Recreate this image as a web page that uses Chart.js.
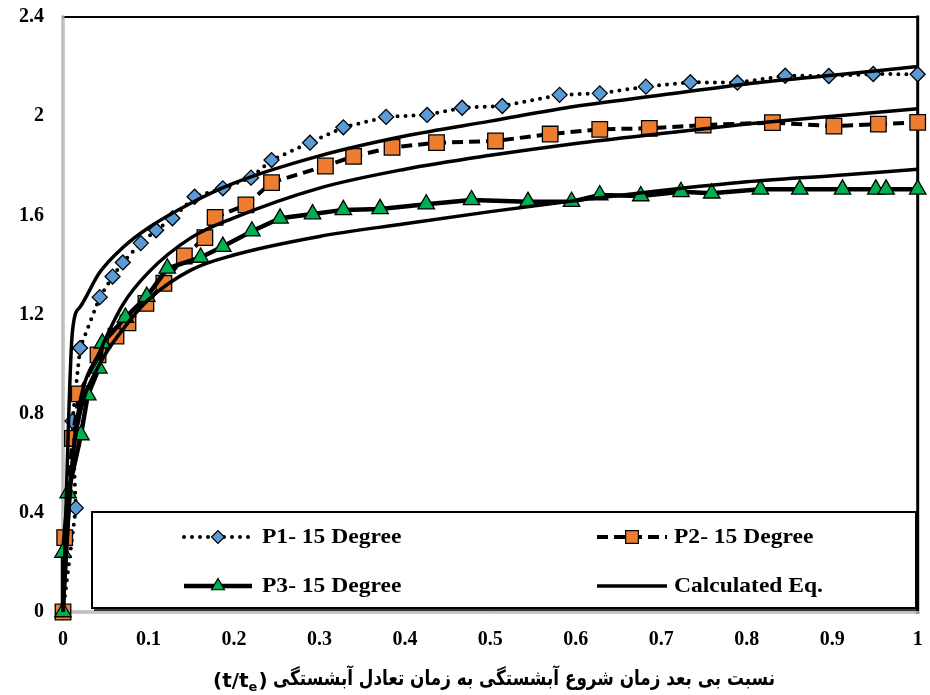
<!DOCTYPE html>
<html>
<head>
<meta charset="utf-8">
<script src="https://cdn.jsdelivr.net/npm/chart.js@4.4.1/dist/chart.umd.min.js"></script>
<style>
  html, body { margin: 0; padding: 0; background: #fff; }
  #wrap { width: 930px; height: 695px; }
</style>
</head>
<body>
<div id="wrap"><canvas id="chart" width="930" height="695"></canvas></div>
<script>
// --- measured series (t/te , depth ratio) ---
const p1X = [0, 0.015, 0.011, 0.020, 0.043, 0.058, 0.070, 0.091, 0.109, 0.128, 0.154, 0.187, 0.220, 0.244, 0.289, 0.328, 0.378, 0.426, 0.467, 0.514, 0.581, 0.628, 0.682, 0.734, 0.789, 0.845, 0.896, 0.948, 1.0];
const p1Y = [0, 0.42, 0.77, 1.065, 1.27, 1.353, 1.41, 1.488, 1.54, 1.588, 1.675, 1.709, 1.752, 1.823, 1.893, 1.955, 1.997, 2.005, 2.034, 2.041, 2.086, 2.092, 2.119, 2.137, 2.135, 2.163, 2.162, 2.170, 2.169];

const p2X = [0, 0.002, 0.011, 0.019, 0.041, 0.062, 0.076, 0.097, 0.118, 0.142, 0.166, 0.178, 0.214, 0.244, 0.307, 0.340, 0.385, 0.437, 0.506, 0.570, 0.628, 0.686, 0.749, 0.830, 0.902, 0.954, 1.0];
const p2Y = [0, 0.30, 0.70, 0.88, 1.037, 1.113, 1.166, 1.245, 1.326, 1.436, 1.51, 1.592, 1.642, 1.732, 1.799, 1.838, 1.874, 1.893, 1.90, 1.928, 1.947, 1.951, 1.964, 1.974, 1.960, 1.968, 1.975];

const p3X = [0, 0, 0.006, 0.021, 0.029, 0.042, 0.046, 0.073, 0.098, 0.122, 0.161, 0.187, 0.221, 0.254, 0.292, 0.328, 0.371, 0.425, 0.478, 0.544, 0.595, 0.628, 0.676, 0.723, 0.759, 0.816, 0.862, 0.912, 0.951, 0.963, 1.0];
const p3Y = [0, 0.24, 0.48, 0.714, 0.875, 0.983, 1.084, 1.188, 1.272, 1.386, 1.43, 1.474, 1.536, 1.588, 1.605, 1.622, 1.626, 1.645, 1.662, 1.655, 1.655, 1.682, 1.678, 1.695, 1.689, 1.705, 1.705, 1.705, 1.705, 1.705, 1.705];

// --- calculated equation curves ---
const calcX = [0, 0.011, 0.02, 0.043, 0.07, 0.1, 0.15, 0.2, 0.3, 0.4, 0.5, 0.6, 0.7, 0.8, 0.9, 1.0];
const calc1Y = [0, 1.13, 1.23, 1.37, 1.47, 1.55, 1.65, 1.73, 1.84, 1.92, 1.98, 2.04, 2.085, 2.13, 2.165, 2.2];
const calc2Y = [0, 0.62, 0.85, 1.05, 1.24, 1.37, 1.51, 1.59, 1.71, 1.786, 1.842, 1.89, 1.93, 1.968, 2.0, 2.03];
const calc3Y = [0, 0.60, 0.80, 1.00, 1.14, 1.26, 1.38, 1.44, 1.515, 1.566, 1.615, 1.66, 1.70, 1.735, 1.76, 1.786];

const xTickLabels = ['0', '0.1', '0.2', '0.3', '0.4', '0.5', '0.6', '0.7', '0.8', '0.9', '1'];
const yTickLabels = ['0', '0.4', '0.8', '1.2', '1.6', '2', '2.4'];

const legendNames = ['P1- 15 Degree', 'P2- 15 Degree', 'P3- 15 Degree', 'Calculated Eq.'];
const axisTitleFa = 'نسبت بی بعد زمان شروع آبشستگی به زمان تعادل آبشستگی';

const pts = (xs, ys) => xs.map((x, i) => ({ x: x, y: ys[i] }));

const serifBold = "'Liberation Serif', 'Times New Roman', serif";

const p1Style = {
  borderColor: '#000', borderWidth: 4, borderDash: [0, 8], borderCapStyle: 'round',
  pointStyle: 'rectRot', pointRadius: 7.5, pointBackgroundColor: '#5B9BD5', pointBorderColor: '#000', pointBorderWidth: 1.3
};
const p2Style = {
  borderColor: '#000', borderWidth: 4, borderDash: [11, 6], borderCapStyle: 'butt',
  pointStyle: 'rect', pointRadius: 11, pointBackgroundColor: '#ED7D31', pointBorderColor: '#000', pointBorderWidth: 1.3
};
const p3Style = {
  borderColor: '#000', borderWidth: 4.5, borderDash: [], borderCapStyle: 'butt',
  pointStyle: 'triangle', pointRadius: 9.5, pointBackgroundColor: '#00B050', pointBorderColor: '#000', pointBorderWidth: 1.3
};
const calcStyle = {
  borderColor: '#000', borderWidth: 3.5, borderDash: [], borderCapStyle: 'butt', pointRadius: 0
};

function calcSet(ys) {
  return Object.assign({ data: pts(calcX, ys), showLine: true, cubicInterpolationMode: 'monotone', clip: false, order: 0 }, calcStyle);
}

function noPad(s) {
  s.paddingTop = 0; s.paddingBottom = 0; s.paddingLeft = 0; s.paddingRight = 0;
}

// axes frame drawn under the series
const framePlugin = {
  id: 'frame',
  beforeDatasetsDraw(chart) {
    const { ctx, chartArea: a } = chart;
    ctx.save();
    ctx.lineCap = 'square';
    ctx.strokeStyle = '#000';
    ctx.lineWidth = 2;
    ctx.beginPath(); ctx.moveTo(a.left, a.top); ctx.lineTo(a.right, a.top); ctx.stroke();
    ctx.lineWidth = 3;
    ctx.beginPath(); ctx.moveTo(a.right, a.top); ctx.lineTo(a.right, a.bottom); ctx.stroke();
    ctx.strokeStyle = '#9a9a9a';
    ctx.lineWidth = 3;
    ctx.beginPath(); ctx.moveTo(a.left, a.top); ctx.lineTo(a.left, a.bottom); ctx.lineTo(a.right, a.bottom); ctx.stroke();
    ctx.strokeStyle = '#e6e6e6';
    ctx.lineWidth = 1;
    ctx.beginPath(); ctx.moveTo(a.left, a.top + 2); ctx.lineTo(a.left, a.bottom); ctx.lineTo(a.right - 2, a.bottom); ctx.stroke();
    ctx.restore();
  }
};

function drawSample(ctx, st, x1, x2, y, markerR) {
  ctx.save();
  ctx.strokeStyle = '#000';
  ctx.lineWidth = st.borderWidth;
  ctx.lineCap = st.borderCapStyle;
  ctx.setLineDash(st.borderDash);
  ctx.beginPath(); ctx.moveTo(x1, y); ctx.lineTo(x2, y); ctx.stroke();
  ctx.setLineDash([]);
  if (st.pointRadius) {
    ctx.fillStyle = st.pointBackgroundColor;
    ctx.strokeStyle = '#000';
    ctx.lineWidth = 1.2;
    Chart.helpers.drawPoint(ctx, { pointStyle: st.pointStyle, radius: markerR, borderWidth: 1.2, rotation: 0 }, (x1 + x2) / 2, y);
  }
  ctx.restore();
}

function drawStretched(ctx, text, x, y, sx) {
  ctx.save();
  ctx.translate(x, y);
  ctx.scale(sx, 1);
  ctx.fillText(text, 0, 0);
  ctx.restore();
}

// legend box inside the plot area + axis title
const legendPlugin = {
  id: 'boxLegend',
  afterDatasetsDraw(chart) {
    const ctx = chart.ctx;
    const bx = 92, by = 512, bw = 824, bh = 96;
    ctx.save();
    ctx.fillStyle = '#fff';
    ctx.fillRect(bx, by, bw, bh);
    ctx.strokeStyle = '#000';
    ctx.lineWidth = 2;
    ctx.strokeRect(bx, by, bw, bh);
    ctx.lineWidth = 1.5;
    ctx.beginPath(); ctx.moveTo(bx + bw + 2, by + 2); ctx.lineTo(bx + bw + 2, by + bh + 2); ctx.lineTo(bx + 2, by + bh + 2); ctx.stroke();

    const rows = [537, 586];
    const c1 = [184, 252, 262], c2 = [597, 667, 674];
    const items = [
      [p1Style, c1, rows[0], 6.5],
      [p2Style, c2, rows[0], 9],
      [p3Style, c1, rows[1], 7.5],
      [calcStyle, c2, rows[1], 0]
    ];
    ctx.font = 'bold 21px ' + serifBold;
    ctx.fillStyle = '#000';
    ctx.textAlign = 'left';
    ctx.textBaseline = 'middle';
    items.forEach((it, i) => {
      const [st, col, y, r] = it;
      drawSample(ctx, st, col[0], col[1], y, r);
      ctx.fillStyle = '#000';
      drawStretched(ctx, legendNames[i], col[2], y + 1, 1.12);
    });
    ctx.restore();
  },
  afterDraw(chart) {
    const ctx = chart.ctx;
    ctx.save();
    ctx.fillStyle = '#000';
    ctx.textBaseline = 'middle';
    // persian part, right to left
    ctx.font = "bold 21px 'DejaVu Sans', sans-serif";
    ctx.direction = 'rtl';
    ctx.textAlign = 'right';
    const w = ctx.measureText(axisTitleFa).width;
    const sx = 502 / w;
    drawStretched(ctx, axisTitleFa, 775, 680, sx);
    // (t/te) with subscript
    ctx.direction = 'ltr';
    ctx.textAlign = 'left';
    ctx.font = "bold 20px 'DejaVu Sans', sans-serif";
    let x = 213;
    ctx.fillText('(t/t', x, 682);
    x += ctx.measureText('(t/t').width;
    ctx.font = "bold 13px 'DejaVu Sans', sans-serif";
    ctx.fillText('e', x, 688);
    x += ctx.measureText('e').width + 1;
    ctx.font = "bold 20px 'DejaVu Sans', sans-serif";
    ctx.fillText(')', x, 682);
    ctx.restore();
  }
};

new Chart(document.getElementById('chart'), {
  type: 'scatter',
  data: {
    datasets: [
      calcSet(calc1Y),
      calcSet(calc2Y),
      calcSet(calc3Y),
      Object.assign({ data: pts(p3X, p3Y), showLine: true, clip: false, order: 1 }, p3Style),
      Object.assign({ data: pts(p2X, p2Y), showLine: true, clip: false, order: 2 }, p2Style),
      Object.assign({ data: pts(p1X, p1Y), showLine: true, clip: false, order: 3 }, p1Style)
    ]
  },
  options: {
    responsive: false,
    animation: false,
    layout: { padding: { top: 17, right: 6, left: 0, bottom: 0 } },
    plugins: { legend: { display: false }, tooltip: { enabled: false } },
    scales: {
      x: {
        type: 'linear', min: 0, max: 1,
        grid: { display: false, drawTicks: false },
        border: { display: false },
        afterBuildTicks: s => { s.ticks = xTickLabels.map((t, i) => ({ value: i / 10 })); },
        afterFit: s => { s.height = 83; noPad(s); },
        ticks: {
          padding: 16,
          color: '#000',
          font: { family: serifBold, size: 20, weight: 'bold' },
          callback: (v, i) => xTickLabels[i]
        }
      },
      y: {
        type: 'linear', min: 0, max: 2.4,
        grid: { display: false, drawTicks: false },
        border: { display: false },
        afterBuildTicks: s => { s.ticks = yTickLabels.map((t, i) => ({ value: i * 0.4 })); },
        afterFit: s => { s.width = 63; noPad(s); },
        ticks: {
          padding: 19,
          color: '#000',
          font: { family: serifBold, size: 20, weight: 'bold' },
          callback: (v, i) => yTickLabels[i]
        }
      }
    }
  },
  plugins: [framePlugin, legendPlugin]
});
</script>
</body>
</html>
